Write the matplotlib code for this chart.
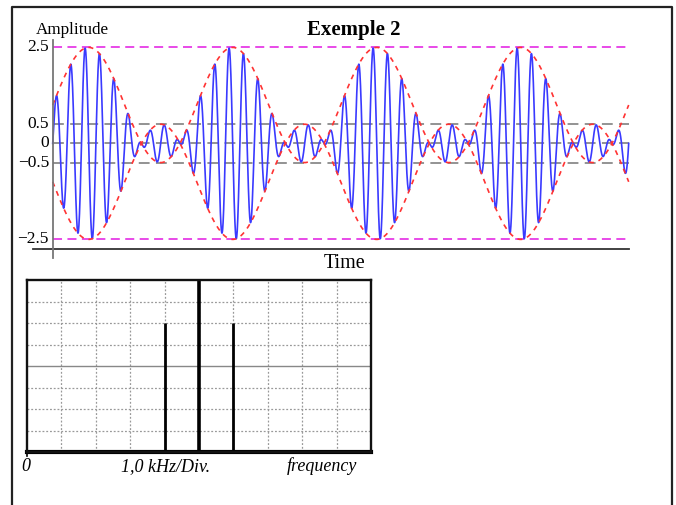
import numpy as np
import matplotlib
matplotlib.use("Agg")
import matplotlib.pyplot as plt
from matplotlib.lines import Line2D

# ---- data ----
CARRIER_AMP = 1.0          # unmodulated carrier amplitude
MOD_INDEX = 1.5            # modulation index (overmodulated: envelope 2.5 .. -0.5)
CARRIER_CYCLES_PER_MOD = 10  # carrier periods per modulation period
N_MOD_PERIODS = 4          # modulation periods shown
ref_levels_magenta = [2.5, -2.5]
ref_levels_gray = [0.5, 0.0, -0.5]
ytick_values = [2.5, 0.5, 0.0, -0.5, -2.5]
ytick_labels = ["2.5", "0.5", "0", "\u22120.5", "\u22122.5"]

spec_freqs_div = [4, 5, 6]     # spectral lines (divisions of 1,0 kHz)
spec_amps_div = [6, 8, 6]      # heights in vertical divisions
spec_widths = [2.0, 2.6, 2.0]

W, H = 676, 505
fig = plt.figure(figsize=(W / 100, H / 100), dpi=100)
plt.rcParams['font.family'] = ['Liberation Serif', 'DejaVu Serif']

def rect(x0, y0, x1, y1):
    return [x0 / W, 1 - y1 / H, (x1 - x0) / W, (y1 - y0) / H]

def fx(px):
    return px / W

def fy(py):
    return 1 - py / H

# outer frame
fig.add_artist(Line2D([fx(11.5), fx(11.5), fx(671.5), fx(671.5)],
                      [fy(510), fy(7), fy(7), fy(510)],
                      transform=fig.transFigure, color='#222222', lw=1.6))

# ---------------- time-domain plot ----------------
ax = fig.add_axes(rect(20, 20, 660, 270))
px_per_T = 144.0
x0px = 52.7
y0px, px_per_unit = 143.4, 38.4
ax.set_xlim((20 - x0px) / px_per_T, (660 - x0px) / px_per_T)
ax.set_ylim((y0px - 270) / px_per_unit, (y0px - 20) / px_per_unit)
ax.axis('off')

t = np.linspace(0, N_MOD_PERIODS, 4000)
env = CARRIER_AMP * (1 + MOD_INDEX * np.sin(2 * np.pi * t))
sig = env * np.sin(2 * np.pi * CARRIER_CYCLES_PER_MOD * t)

for lv in ref_levels_gray:
    ax.plot([0, N_MOD_PERIODS], [lv, lv], color='#8a8a8a', lw=1.3,
            dashes=(6, 3.5))
for lv in ref_levels_magenta:
    ax.plot([0, N_MOD_PERIODS], [lv, lv], color='#e63be6', lw=1.3,
            dashes=(5, 3))
ax.plot(t, sig, color='#3a3aff', lw=1.2)
ax.plot(t, env, color='#ff3333', lw=1.2, dashes=(3, 3))
ax.plot(t, -env, color='#ff3333', lw=1.2, dashes=(3, 3))

# axes lines
xa_y = (y0px - 249.3) / px_per_unit
ax.plot([(33 - x0px) / px_per_T, (628.7 - x0px) / px_per_T], [xa_y, xa_y],
        color='#333333', lw=1.3, clip_on=False)
ax.plot([0, 0], [(y0px - 258) / px_per_unit, (y0px - 40) / px_per_unit],
        color='#777777', lw=1.3, clip_on=False)
for v, lab in zip(ytick_values, ytick_labels):
    ax.text((49 - x0px) / px_per_T, v, lab, ha='right', va='center',
            fontsize=12.5)

fig.text(fx(35.5), fy(33.5), "Amplitude", ha='left', va='baseline', fontsize=12.3)
fig.text(fx(354), fy(35), "Exemple 2", ha='center', va='baseline',
         fontsize=15, fontweight='bold')
fig.text(fx(345), fy(268), "Time", ha='center', va='baseline', fontsize=14.5)

# ---------------- spectrum plot ----------------
sx = fig.add_axes(rect(27, 280, 371, 452))
sx.set_xlim(0, 10)
sx.set_ylim(0, 8)
sx.set_xticks([])
sx.set_yticks([])
for s in sx.spines.values():
    s.set_linewidth(1.7)
    s.set_color('#111111')
for k in range(1, 10):
    sx.axvline(k, color='#999999', lw=0.9, ls=(0, (1.5, 1.5)))
for k in range(1, 8):
    if k == 4:
        sx.axhline(k, color='#888888', lw=1.0)
    else:
        sx.axhline(k, color='#999999', lw=0.9, ls=(0, (1.5, 1.5)))
for f, a, w in zip(spec_freqs_div, spec_amps_div, spec_widths):
    sx.plot([f, f], [0, a], color='black', lw=w, solid_capstyle='butt')
sx.plot([0, 10], [0.02, 0.02], color='black', lw=3.0, clip_on=False)
sx.plot([0, 0], [0, -0.2], color='black', lw=1.2, clip_on=False)

fig.text(fx(26), fy(471), "0", ha='center', va='baseline', fontsize=13,
         style='italic')
fig.text(fx(166), fy(471), "1,0 kHz/Div.", ha='center', va='baseline',
         fontsize=13, style='italic')
fig.text(fx(322), fy(471), "frequency", ha='center', va='baseline',
         fontsize=13, style='italic')

fig.savefig("out.png", dpi=100)
